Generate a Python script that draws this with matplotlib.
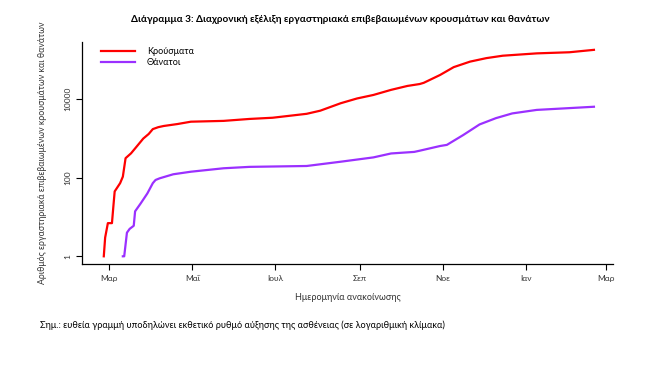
import matplotlib
matplotlib.use("Agg")
import matplotlib.pyplot as plt
import numpy as np
import datetime as dt

plt.rcParams['font.family'] = ['Lato', 'DejaVu Sans']

case_dates = ["2020-02-26", "2020-02-27", "2020-02-29", "2020-03-03", "2020-03-04", "2020-03-05",
              "2020-03-09", "2020-03-11", "2020-03-13", "2020-03-17", "2020-03-20", "2020-03-26",
              "2020-03-30", "2020-04-02", "2020-04-06", "2020-04-10", "2020-04-20", "2020-04-30",
              "2020-05-24", "2020-06-12",
              "2020-06-29", "2020-07-24", "2020-08-03", "2020-08-18", "2020-08-30", "2020-09-11",
              "2020-09-24", "2020-10-06", "2020-10-15", "2020-10-18", "2020-10-30", "2020-11-09",
              "2020-11-21", "2020-12-03", "2020-12-15", "2021-01-09", "2021-02-02", "2021-02-20"]
cases = [1, 3, 7, 7, 18, 45, 73, 107, 316, 420, 560, 1000,
         1310, 1740, 1950, 2090, 2340, 2690, 2820, 3160,
         3390, 4270, 5130, 7940, 10500, 12900,
         17400, 21900, 24500, 26300, 41700, 66000, 91200, 112000, 129000, 148000, 158000, 182000]

death_dates = ["2020-03-11", "2020-03-12", "2020-03-14", "2020-03-16", "2020-03-19", "2020-03-20",
               "2020-03-24", "2020-03-29", "2020-03-31", "2020-04-02", "2020-04-04", "2020-04-07",
               "2020-04-17", "2020-04-30",
               "2020-05-24", "2020-06-12", "2020-07-24", "2020-08-18", "2020-09-11", "2020-09-24",
               "2020-10-11", "2020-10-15", "2020-10-30", "2020-11-04", "2020-11-16", "2020-11-28",
               "2020-12-10", "2020-12-22", "2021-01-09", "2021-02-20"]
deaths = [1, 1, 4, 5, 6, 14, 22, 40, 54, 73, 88, 97, 123, 143,
          175, 190, 200, 257, 331, 417, 457, 490, 646, 690, 1230, 2290,
          3310, 4370, 5370, 6460]

tick_dates = ["2020-03-01", "2020-05-01", "2020-07-01", "2020-09-01", "2020-11-01", "2021-01-01", "2021-03-01"]
tick_labels = ["Μαρ", "Μαΐ", "Ιουλ", "Σεπ", "Νοε", "Ιαν", "Μαρ"]
y_ticks = [1, 100, 10000]
y_tick_labels = ["1", "100", "10000"]

def todate(s):
    return dt.datetime.strptime(s, "%Y-%m-%d")

fig = plt.figure(figsize=(6.6, 3.79), dpi=100)
ax = fig.add_axes([82/660, 1-264/379, (613-82)/660, (264-42)/379])

ax.plot([todate(d) for d in case_dates], cases, color='#FF0000', lw=1.6, label='Κρούσματα')
ax.plot([todate(d) for d in death_dates], deaths, color='#9B30FF', lw=1.6, label='Θάνατοι')

ax.set_yscale('log')
ax.set_ylim(10**-0.196, 10**5.46)
ax.set_xlim(todate("2020-02-10"), todate("2021-03-06"))

ax.set_xticks([todate(d) for d in tick_dates])
ax.set_xticklabels(tick_labels, fontsize=6, color='#333333')
ax.set_yticks(y_ticks)
ax.set_yticklabels(y_tick_labels, fontsize=6, rotation=90, va='center', color='#333333')
ax.yaxis.set_minor_locator(matplotlib.ticker.NullLocator())
ax.tick_params(axis='both', length=4, width=0.8, pad=4)

for s in ['top', 'right']:
    ax.spines[s].set_visible(False)
for s in ['left', 'bottom']:
    ax.spines[s].set_linewidth(0.9)

ax.set_xlabel('Ημερομηνία ανακοίνωσης', fontsize=6.5, labelpad=8, color='#333333')
ax.set_ylabel('Αριθμός εργαστηριακά επιβεβαιωμένων κρουσμάτων και θανάτων', fontsize=6.3, labelpad=12, color='#333333')

leg = ax.legend(loc='upper left', bbox_to_anchor=(0.02, 1.015), frameon=False, fontsize=6.5,
                handlelength=3.8, handletextpad=1.3, labelspacing=0.25)

fig.text(0.515, 1-20/379, 'Διάγραμμα 3: Διαχρονική εξέλιξη εργαστηριακά επιβεβαιωμένων κρουσμάτων και θανάτων',
         ha='center', va='center', fontsize=7.2, fontweight='bold')
fig.text(40/660, 1-325/379, 'Σημ.: ευθεία γραμμή υποδηλώνει εκθετικό ρυθμό αύξησης της ασθένειας (σε λογαριθμική κλίμακα)',
         ha='left', va='center', fontsize=6.6)

fig.savefig('out.png', dpi=100)
